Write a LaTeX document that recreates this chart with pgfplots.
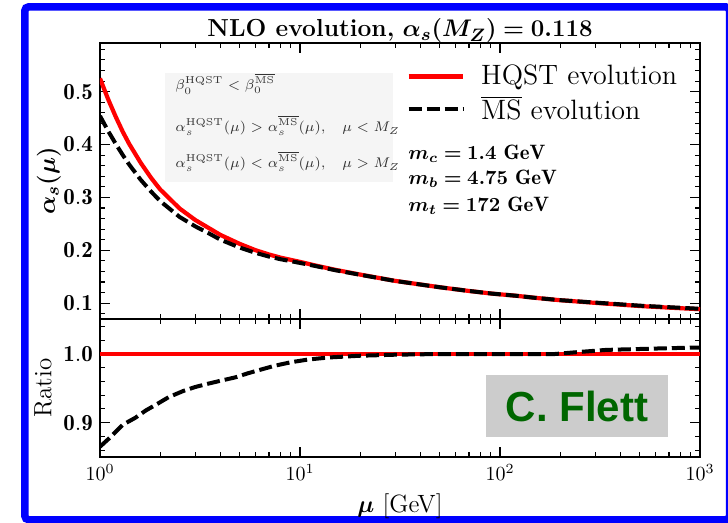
\documentclass[border=0pt]{standalone}
\usepackage{pgfplots}
\pgfplotsset{compat=1.18}
\usepackage{fontspec}
\usepackage{bm}
\newfontfamily\signfont{Liberation Sans}

\definecolor{frameblue}{RGB}{0,0,255}
\definecolor{hqstred}{RGB}{255,0,0}
\definecolor{signgreen}{RGB}{0,102,0}
\definecolor{signgray}{RGB}{204,204,204}
\definecolor{notegray}{RGB}{245,245,245}

% alpha_s(mu) with HQST evolution
\pgfplotstableread{
mu     as
1.0    0.525
1.1    0.485
1.2    0.452
1.3    0.424
1.4    0.401
1.6    0.365
1.8    0.337
2.0    0.315
2.5    0.279
3.0    0.257
3.5    0.242
4.0    0.229
5.0    0.212
6.0    0.200
7.0    0.192
8.0    0.186
10     0.178
12     0.171
15     0.163
20     0.154
30     0.142
50     0.130
70     0.123
91.2   0.118
120    0.114
150    0.110
200    0.1055
300    0.1005
500    0.0945
700    0.0915
1000   0.0885
}\hqsttab

% alpha_s(mu) with MSbar evolution
\pgfplotstableread{
mu     as
1.0    0.454
1.1    0.425
1.2    0.401
1.3    0.380
1.4    0.362
1.6    0.333
1.8    0.311
2.0    0.293
2.5    0.263
3.0    0.245
3.5    0.232
4.0    0.220
5.0    0.205
6.0    0.195
7.0    0.188
8.0    0.183
10     0.176
12     0.170
15     0.1623
20     0.1536
30     0.1419
50     0.130
70     0.123
91.2   0.118
120    0.114
150    0.110
200    0.1056
300    0.1010
500    0.0952
700    0.0923
1000   0.0893
}\msbartab

% ratio MSbar / HQST
\pgfplotstableread{
mu     r
1.0    0.865
1.1    0.876
1.2    0.887
1.3    0.897
1.5    0.907
1.7    0.918
1.9    0.926
2.2    0.937
2.6    0.946
3.0    0.952
3.5    0.957
4.0    0.961
4.75   0.966
5.5    0.972
6.5    0.978
7.5    0.983
9      0.988
11     0.992
14     0.995
20     0.9975
30     0.999
50     1.000
100    1.000
188    1.000
250    1.003
340    1.006
500    1.0073
700    1.0085
1000   1.0095
}\ratiotab

\begin{document}
\begin{tikzpicture}
\useasboundingbox (0pt,0pt) rectangle (364pt,261.5pt);
\fill[white] (0pt,0pt) rectangle (364pt,261.5pt);
\draw[frameblue, line width=3.75pt, rounded corners=2pt] (12.4pt,1.6pt) rectangle (364.8pt,258.1pt);

% note box behind the upper panel
\fill[notegray] (82.5pt,170.5pt) rectangle (196.5pt,225pt);

% upper panel: coupling
\begin{axis}[
  xmode=log, scale only axis, width=300pt, height=138pt,
  at={(50pt,102pt)}, anchor=south west,
  xmin=1, xmax=1000, ymin=0.07, ymax=0.592,
  axis line style={line width=0.6pt},
  tick style={black, line width=0.55pt},
  major tick length=5pt, minor tick length=2.5pt,
  ytick={0.1,0.2,0.3,0.4,0.5},
  yticklabels={$\mathbf{0.1}$,$\mathbf{0.2}$,$\mathbf{0.3}$,$\mathbf{0.4}$,$\mathbf{0.5}$},
  minor ytick={0.08,0.12,0.14,0.16,0.18,0.22,0.24,0.26,0.28,0.32,0.34,0.36,0.38,0.42,0.44,0.46,0.48,0.52,0.54,0.56,0.58},
  yticklabel style={font=\fontsize{11.5}{13}\selectfont},
  xticklabel=\empty,
  title={\textbf{NLO evolution,} $\bm{\alpha_s(M_Z) = 0.118}$},
  every axis title/.style={at={(0.5,1)}, anchor=base, yshift=3pt,
    font=\fontsize{12.3}{14}\selectfont},
  ylabel={$\bm{\alpha_s(\mu)}$},
  ylabel style={font=\fontsize{12.5}{14}\selectfont,
    at={(axis description cs:-0.085,0.5)}, anchor=center},
  legend style={draw=none, fill=none, at={(0.5,0.95)}, anchor=north west,
    font=\fontsize{14}{16}\selectfont, column sep=6pt},
  legend cell align=left,
  legend image post style={xscale=1.6},
]
\addplot[hqstred, line width=2.1pt] table[x=mu, y=as] {\hqsttab};
\addlegendentry{HQST evolution}
\addplot[black, line width=2pt, dash pattern=on 6.5pt off 2.5pt] table[x=mu, y=as] {\msbartab};
\addlegendentry{$\overline{\mathrm{MS}}$ evolution}
\end{axis}

% lower panel: ratio
\begin{axis}[
  xmode=log, scale only axis, width=300pt, height=69pt,
  at={(50pt,33pt)}, anchor=south west,
  xmin=1, xmax=1000, ymin=0.85, ymax=1.051,
  axis line style={line width=0.6pt},
  tick style={black, line width=0.55pt},
  major tick length=5pt, minor tick length=2.5pt,
  ytick={0.9,1.0},
  yticklabels={$\mathbf{0.9}$,$\mathbf{1.0}$},
  minor ytick={0.86,0.88,0.92,0.94,0.96,0.98,1.02,1.04},
  yticklabel style={font=\fontsize{11.5}{13}\selectfont},
  xtick={1,10,100,1000},
  xticklabel style={font=\fontsize{10}{12}\selectfont},
  xlabel={$\bm{\mu}$ [GeV]},
  xlabel style={font=\fontsize{12.5}{14}\selectfont},
  ylabel={Ratio},
  ylabel style={font=\fontsize{12.5}{14}\selectfont,
    at={(axis description cs:-0.095,0.5)}, anchor=center},
]
\addplot[hqstred, line width=2.1pt] coordinates {(1,1) (1000,1)};
\addplot[black, line width=2pt, dash pattern=on 6.5pt off 2.5pt] table[x=mu, y=r] {\ratiotab};
\end{axis}

% notes on the evolution
\begin{scope}[every node/.style={anchor=base west, inner sep=0pt, font=\fontsize{7}{8.5}\selectfont, text=black!80}]
\node at (87.5pt,216.5pt) {$\beta_0^{\mathrm{HQST}} < \beta_0^{\overline{\mathrm{MS}}}$};
\node at (87.5pt,195.5pt) {$\alpha_s^{\mathrm{HQST}}(\mu) > \alpha_s^{\overline{\mathrm{MS}}}(\mu), \quad \mu < M_Z$};
\node at (87.5pt,177.5pt) {$\alpha_s^{\mathrm{HQST}}(\mu) < \alpha_s^{\overline{\mathrm{MS}}}(\mu), \quad \mu > M_Z$};
\end{scope}

% quark masses
\begin{scope}[every node/.style={anchor=base west, inner sep=0pt, font=\fontsize{10.4}{12}\selectfont}]
\node at (204pt,181.5pt) {$\bm{m_c = 1.4\ \mathrm{GeV}}$};
\node at (204pt,169pt) {$\bm{m_b = 4.75\ \mathrm{GeV}}$};
\node at (204pt,155.5pt) {$\bm{m_t = 172\ \mathrm{GeV}}$};
\end{scope}

% author tag
\node[fill=signgray, minimum width=91pt, minimum height=31pt, inner sep=0pt,
  text=signgreen, font=\signfont\bfseries\fontsize{21}{24}\selectfont]
  at (288.5pt,58.5pt) {C. Flett};
\end{tikzpicture}
\end{document}
